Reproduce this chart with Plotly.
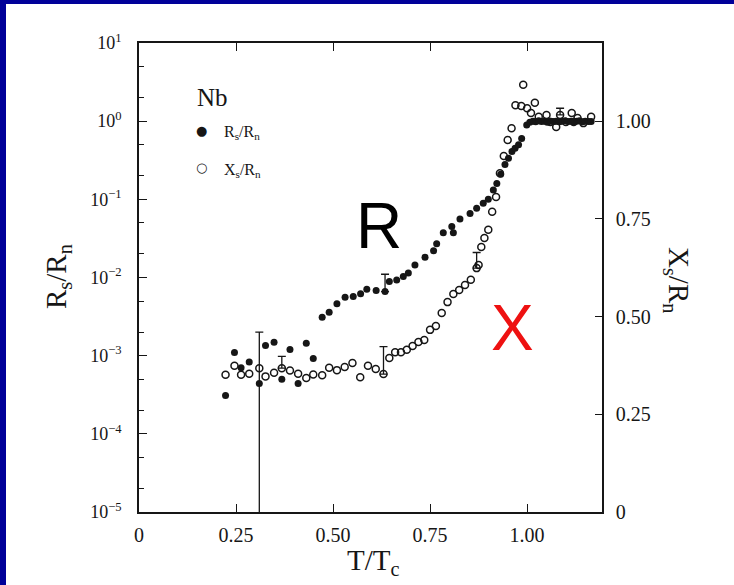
import plotly.graph_objects as go

# Nb surface impedance vs reduced temperature
# R_s/R_n  (filled dots, left log axis)
t_r = [0.223, 0.246, 0.263, 0.284, 0.310, 0.326, 0.348, 0.368, 0.389, 0.410, 0.431, 0.449, 0.472, 0.490,
       0.510, 0.531, 0.552, 0.571, 0.587, 0.611, 0.634, 0.645, 0.664, 0.681,
       0.694, 0.711, 0.737, 0.759, 0.767, 0.784, 0.806, 0.810, 0.827, 0.853,
       0.870, 0.887, 0.900, 0.913, 0.922, 0.932, 0.943, 0.952, 0.961, 0.969,
       0.978, 0.986, 0.999,
       1.007, 1.015, 1.022, 1.030, 1.037, 1.045, 1.052, 1.060, 1.068, 1.075,
       1.083, 1.090, 1.098, 1.105, 1.113, 1.120, 1.128, 1.135, 1.143, 1.150, 1.158, 1.165]
r_s = [3.1e-4, 1.1e-3, 7e-4, 8.3e-4, 4.4e-4, 1.35e-3, 1.48e-3, 5e-4, 1.2e-3, 4.4e-4, 1.44e-3, 9.2e-4, 3.1e-3, 3.6e-3,
       4.6e-3, 5.6e-3, 5.7e-3, 6.2e-3, 7.1e-3, 6.8e-3, 6.6e-3, 8.9e-3, 9.3e-3, 1.03e-2,
       1.14e-2, 1.45e-2, 1.82e-2, 2.2e-2, 2.7e-2, 3.75e-2, 4.5e-2, 3.75e-2, 5.6e-2, 6.6e-2,
       7.7e-2, 8.9e-2, 0.10, 0.132, 0.16, 0.21, 0.28, 0.336, 0.41, 0.45,
       0.50, 0.60, 0.89,
       0.97, 1.0, 0.98, 1.01, 0.99, 1.0, 0.97, 1.0, 0.99, 1.0,
       0.98, 1.0, 1.01, 0.99, 1.0, 0.98, 1.0, 1.01, 0.98, 1.0, 0.99, 0.99]

# X_s/R_n  (open circles, right linear axis)
t_x = [0.223, 0.246, 0.263, 0.284, 0.310, 0.326, 0.348, 0.368, 0.389, 0.410, 0.431, 0.449, 0.472, 0.490,
       0.510, 0.530, 0.550, 0.570, 0.590, 0.610, 0.630, 0.645, 0.660, 0.675,
       0.690, 0.705, 0.720, 0.735, 0.750, 0.765, 0.780, 0.795, 0.810, 0.825,
       0.840, 0.855, 0.870, 0.875, 0.882, 0.890, 0.900, 0.910, 0.920, 0.930,
       0.940, 0.950, 0.960, 0.970, 0.985, 0.990, 1.000, 1.010, 1.020, 1.030,
       1.050, 1.060, 1.075, 1.085, 1.100, 1.115, 1.120, 1.130, 1.145, 1.165]
x_s = [0.351, 0.374, 0.351, 0.354, 0.368, 0.347, 0.356, 0.368, 0.362, 0.354, 0.343, 0.352, 0.350, 0.369,
       0.363, 0.371, 0.381, 0.345, 0.374, 0.366, 0.353, 0.394, 0.409, 0.409,
       0.415, 0.425, 0.435, 0.440, 0.466, 0.476, 0.509, 0.537, 0.558, 0.568,
       0.581, 0.594, 0.624, 0.632, 0.678, 0.701, 0.722, 0.768, 0.806, 0.867,
       0.911, 0.952, 0.982, 1.041, 1.039, 1.093, 1.033, 1.021, 1.047, 1.011,
       1.016, 0.998, 0.985, 1.016, 0.998, 1.021, 0.998, 1.008, 0.995, 1.011]

# error bars: index into the series above, upper / lower extent
r_err_idx = [4, 20]
r_err_plus = [1.56e-3, 4.4e-3]
r_err_minus = [4.39e-4, 0.0]
x_err_idx = [7, 20, 36, 57]
x_err_plus = [0.03, 0.07, 0.04, 0.017]

left_tickvals = [1e-5, 1e-4, 1e-3, 1e-2, 1e-1, 1e0, 1e1]
left_ticktext = ['10<sup>\u22125</sup>', '10<sup>\u22124</sup>', '10<sup>\u22123</sup>', '10<sup>\u22122</sup>',
                 '10<sup>\u22121</sup>', '10<sup>0</sup>', '10<sup>1</sup>']
right_tickvals = [0, 0.25, 0.5, 0.75, 1.0]
right_ticktext = ['0', '0.25', '0.50', '0.75', '1.00']
bottom_tickvals = [0, 0.25, 0.5, 0.75, 1.0]
bottom_ticktext = ['0', '0.25', '0.50', '0.75', '1.00']

W, H = 734, 585
L, R, T, B = 139, 602, 43, 512
INK = '#161616'
SERIF = 'Liberation Serif, Times New Roman, serif'


def px(x):
    return (x - L) / (R - L)


def py(y):
    return (B - y) / (B - T)


fig = go.Figure()

fig.add_trace(go.Scatter(
    x=t_r, y=r_s, mode='markers', yaxis='y',
    marker=dict(symbol='circle', size=7, color=INK),
    showlegend=False, hoverinfo='x+y'))

fig.add_trace(go.Scatter(
    x=t_x, y=x_s, mode='markers', yaxis='y2',
    marker=dict(symbol='circle-open', size=7, color=INK, line=dict(width=1.5, color=INK)),
    showlegend=False, hoverinfo='x+y'))

# error bars drawn on transparent copies of the flagged points
fig.add_trace(go.Scatter(
    x=[t_r[i] for i in r_err_idx], y=[r_s[i] for i in r_err_idx], mode='markers', yaxis='y',
    marker=dict(size=1, color='rgba(0,0,0,0)'),
    error_y=dict(type='data', symmetric=False, array=r_err_plus, arrayminus=r_err_minus,
                 color=INK, thickness=1.3, width=4),
    showlegend=False, hoverinfo='skip'))

fig.add_trace(go.Scatter(
    x=[t_x[i] for i in x_err_idx], y=[x_s[i] for i in x_err_idx], mode='markers', yaxis='y2',
    marker=dict(size=1, color='rgba(0,0,0,0)'),
    error_y=dict(type='data', symmetric=False, array=x_err_plus, arrayminus=[0] * len(x_err_idx),
                 color=INK, thickness=1.3, width=4),
    showlegend=False, hoverinfo='skip'))

axis_common = dict(showline=True, linecolor=INK, linewidth=1.5, showgrid=False, zeroline=False,
                   ticks='inside', tickcolor=INK, tickwidth=1.3,
                   tickfont=dict(family=SERIF, size=20, color=INK))

fig.update_layout(
    width=W, height=H,
    margin=dict(l=L, r=W - R, t=T, b=H - B),
    paper_bgcolor='white', plot_bgcolor='white',
    xaxis=dict(range=[0, 1.193], tickmode='array', tickvals=bottom_tickvals, ticktext=bottom_ticktext,
               ticklen=8, mirror='ticks', ticklabelstandoff=4, **axis_common),
    yaxis=dict(type='log', range=[-5, 1], tickmode='array', tickvals=left_tickvals, ticktext=left_ticktext,
               ticklen=8, ticklabelstandoff=12,
               minor=dict(tickmode='array',
                          tickvals=[m * 10 ** e for e in range(-5, 1) for m in (2, 5)],
                          ticks='inside', ticklen=5, tickcolor=INK, tickwidth=1.2),
               **{**axis_common, 'tickfont': dict(family=SERIF, size=18, color=INK)}),
    yaxis2=dict(range=[0, 1.2], overlaying='y', side='right', tickmode='array',
                tickvals=right_tickvals, ticktext=right_ticktext, ticklen=7,
                ticklabelstandoff=8, **axis_common),
    font=dict(family=SERIF, color=INK),
)

ann = [
    dict(x=px(58), y=py(277), text='R<sub>s</sub>/R<sub>n</sub>', textangle=-90,
         font=dict(family=SERIF, size=29, color=INK)),
    dict(x=px(677), y=py(280), text='X<sub>s</sub>/R<sub>n</sub>', textangle=90,
         font=dict(family=SERIF, size=29, color=INK)),
    dict(x=px(373), y=py(562), text='T/T<sub>c</sub>',
         font=dict(family=SERIF, size=29, color=INK)),
    dict(x=px(212), y=py(98), text='Nb', font=dict(family=SERIF, size=25, color=INK)),
    dict(x=px(201), y=py(130), text='\u25cf', font=dict(family='DejaVu Sans', size=13, color=INK)),
    dict(x=px(201), y=py(167), text='\u25cb', font=dict(family='DejaVu Sans', size=13, color=INK)),
    dict(x=px(222), y=py(133), text='R<sub>s</sub>/R<sub>n</sub>', xanchor='left',
         font=dict(family=SERIF, size=16, color=INK)),
    dict(x=px(222), y=py(170), text='X<sub>s</sub>/R<sub>n</sub>', xanchor='left',
         font=dict(family=SERIF, size=16, color=INK)),
    dict(x=px(379), y=py(226), text='R', font=dict(family='Liberation Sans, Arial, sans-serif', size=64, color='black')),
    dict(x=px(512), y=py(328), text='X', font=dict(family='Liberation Sans, Arial, sans-serif', size=64, color='#ee1111')),
]
for a in ann:
    a.setdefault('xanchor', 'center')
    a.update(xref='paper', yref='paper', showarrow=False, yanchor='middle')
fig.update_layout(annotations=ann)

# dark blue slide frame along the left and top edges
BLUE = '#000099'
fig.update_layout(shapes=[
    dict(type='rect', xref='paper', yref='paper', x0=px(0), x1=px(6), y0=py(H), y1=py(0),
         fillcolor=BLUE, line=dict(width=0), layer='above'),
    dict(type='rect', xref='paper', yref='paper', x0=px(0), x1=px(W), y0=py(4), y1=py(0),
         fillcolor=BLUE, line=dict(width=0), layer='above'),
])

# drop the browser's default body margin so the figure sits at the page corner
fig.write_html('out.html', config={'displayModeBar': False},
               post_script="document.body.style.margin='0';document.body.style.overflow='hidden';")
